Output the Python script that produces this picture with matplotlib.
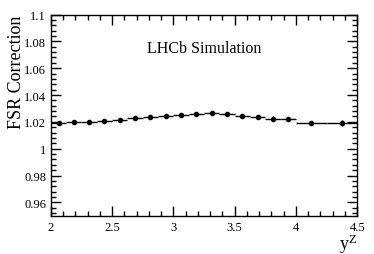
import matplotlib
matplotlib.use("Agg")
import matplotlib.pyplot as plt
import numpy as np
from matplotlib.ticker import MultipleLocator

plt.rcParams['font.family'] = ['Liberation Serif', 'DejaVu Serif']
plt.rcParams['mathtext.fontset'] = 'custom'
plt.rcParams['mathtext.rm'] = 'Liberation Serif'
plt.rcParams['mathtext.it'] = 'Liberation Serif'

# bin edges in y^Z and the FSR correction per bin
bin_lo = [2.0, 2.125, 2.25, 2.375, 2.5, 2.625, 2.75, 2.875, 3.0, 3.125,
          3.25, 3.375, 3.5, 3.625, 3.75, 3.875, 4.0, 4.25]
bin_hi = [2.125, 2.25, 2.375, 2.5, 2.625, 2.75, 2.875, 3.0, 3.125, 3.25,
          3.375, 3.5, 3.625, 3.75, 3.875, 4.0, 4.25, 4.5]
fsr = [1.0195, 1.0198, 1.0200, 1.0208, 1.0215, 1.0226, 1.0236, 1.0246, 1.0252, 1.0262,
       1.0263, 1.0258, 1.0246, 1.0238, 1.0225, 1.0222, 1.0195, 1.0192]
fsr_err = [0.0006, 0.0005, 0.0005, 0.0005, 0.0005, 0.0005, 0.0005, 0.0005, 0.0006, 0.0006,
           0.0006, 0.0007, 0.0007, 0.0009, 0.0018, 0.0009, 0.0007, 0.0025]

lo = np.array(bin_lo)
hi = np.array(bin_hi)
xc = 0.5 * (lo + hi)
xerr = 0.5 * (hi - lo)

fig = plt.figure(figsize=(3.74, 2.55), dpi=100)
ax = fig.add_axes([0.136, 0.15, 0.819, 0.789])

ax.errorbar(xc, fsr, xerr=xerr, yerr=fsr_err, fmt='o', color='black',
            ms=3, lw=1, capsize=0)

ax.set_xlim(2, 4.5)
ax.set_ylim(0.95, 1.1)
ax.xaxis.set_minor_locator(MultipleLocator(0.1))
ax.yaxis.set_minor_locator(MultipleLocator(0.004))
ax.set_yticks([0.96, 0.98, 1.0, 1.02, 1.04, 1.06, 1.08, 1.1])
ax.set_yticklabels(['0.96', '0.98', '1', '1.02', '1.04', '1.06', '1.08', '1.1'])
ax.set_xticks([2, 2.5, 3, 3.5, 4, 4.5])
ax.set_xticklabels(['2', '2.5', '3', '3.5', '4', '4.5'])
ax.tick_params(which='both', direction='in', top=True, right=True, labelsize=9)
ax.tick_params(which='major', length=7, width=1)
ax.tick_params(which='minor', length=3.5, width=1)
ax.tick_params(axis='x', pad=4)
for s in ax.spines.values():
    s.set_linewidth(1)

ax.set_ylabel('FSR Correction', fontsize=13, loc='top', labelpad=-1)
ax.set_xlabel('y$^{\\rm Z}$', fontsize=13, ha='right', va='center')
ax.xaxis.set_label_coords(1.0, -0.135)

ax.text(3.25, 1.075, 'LHCb Simulation', fontsize=11.5, ha='center', va='center')

fig.savefig('out.png', dpi=100)
